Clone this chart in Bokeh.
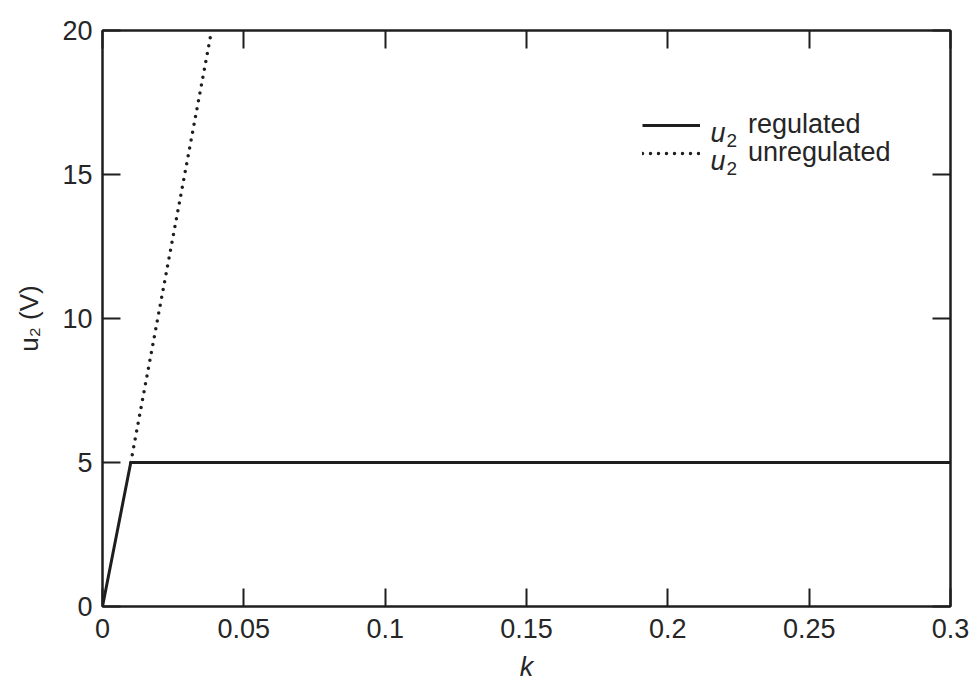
from bokeh.plotting import figure
from bokeh.models import LinearAxis, Label, Legend, LegendItem, Range1d, FixedTicker
from bokeh.embed import file_html
from bokeh.resources import INLINE

# ---- data ----
k_regulated = [0.0, 0.01, 0.30]
u2_regulated = [0.0, 5.0, 5.0]
k_unregulated = [0.01, 0.0386]
u2_unregulated = [5.0, 20.0]

x_ticks = [0, 0.05, 0.1, 0.15, 0.2, 0.25, 0.3]
x_tick_labels = ["0", "0.05", "0.1", "0.15", "0.2", "0.25", "0.3"]
y_ticks = [0, 5, 10, 15, 20]
y_tick_labels = ["0", "5", "10", "15", "20"]
legend_names = ["regulated", "unregulated"]
legend_symbol = ["u", "2"]
x_label = "k"
y_label = "u\u2082 (V)"

FONT = "Liberation Sans"
INK = "#1e1e1e"
TXT = "#262626"

X0, X1 = 0.0, 0.3
Y0, Y1 = 0.0, 20.0
FX0, FX1, FY0, FY1 = 102, 950, 30, 606


def dx(px):
    return X0 + (px - FX0) / (FX1 - FX0) * (X1 - X0)


def dy(py):
    return Y0 + (FY1 - py) / (FY1 - FY0) * (Y1 - Y0)


p = figure(width=969, height=684, x_range=Range1d(X0, X1), y_range=Range1d(Y0, Y1),
           output_backend="svg", toolbar_location=None,
           min_border_left=FX0, min_border_right=969 - FX1,
           min_border_top=FY0, min_border_bottom=684 - FY1)
p.grid.visible = False
p.outline_line_color = INK
p.outline_line_width = 2
p.background_fill_color = "white"
p.border_fill_color = "white"

r_dot = p.line(k_unregulated, u2_unregulated, line_color=INK, line_width=3.5,
               line_dash="0 8", line_cap="round")
r_sol = p.line(k_regulated, u2_regulated, line_color=INK, line_width=3)


def style_axis(ax, ticks, labels, show_labels=True):
    ax.ticker = FixedTicker(ticks=ticks)
    ax.major_label_overrides = {t: l for t, l in zip(ticks, labels)}
    ax.major_tick_in = 18
    ax.major_tick_out = 0
    ax.minor_tick_in = 0
    ax.minor_tick_out = 0
    ax.axis_line_color = INK
    ax.axis_line_width = 2
    ax.major_tick_line_color = INK
    ax.major_tick_line_width = 2
    ax.major_label_text_font = FONT
    if show_labels:
        ax.major_label_text_font_size = "27px"
        ax.major_label_text_color = TXT
    else:
        # mirrored ticks only: labels are not painted and take little room
        ax.major_label_text_font_size = "8px"
        ax.major_label_text_color = None
        ax.major_label_text_alpha = 0
        ax.major_label_standoff = 0


style_axis(p.xaxis[0], x_ticks, x_tick_labels)
p.xaxis[0].major_label_standoff = 12
p.xaxis[0].axis_label = x_label
p.xaxis[0].axis_label_text_font = FONT
p.xaxis[0].axis_label_text_font_style = "italic"
p.xaxis[0].axis_label_text_font_size = "27px"
p.xaxis[0].axis_label_text_color = TXT
p.xaxis[0].axis_label_standoff = 11

style_axis(p.yaxis[0], y_ticks, y_tick_labels)
p.yaxis[0].major_label_standoff = 10
p.yaxis[0].axis_label = y_label
p.yaxis[0].axis_label_text_font = FONT
p.yaxis[0].axis_label_text_font_style = "normal"
p.yaxis[0].axis_label_text_font_size = "26px"
p.yaxis[0].axis_label_text_color = TXT
p.yaxis[0].axis_label_standoff = 15

top = LinearAxis()
style_axis(top, x_ticks, x_tick_labels, show_labels=False)
p.add_layout(top, "above")
right = LinearAxis()
style_axis(right, y_ticks, y_tick_labels, show_labels=False)
p.add_layout(right, "right")

# ---- legend: one small legend per entry so rows sit 28 px apart ----
legend_renderers = [r_sol, r_dot]
legend_y = [466, 438]
for name, rend, ly in zip(legend_names, legend_renderers, legend_y):
    lg = Legend(items=[LegendItem(label=name, renderers=[rend])],
                location=(540, ly), glyph_width=58, glyph_height=28, spacing=0,
                padding=0, margin=0, label_standoff=48, label_height=28,
                border_line_alpha=0, background_fill_alpha=0,
                label_text_font=FONT, label_text_font_size="27px",
                label_text_color=TXT)
    p.add_layout(lg)

# ---- "u2" in front of each legend name: italic u, subscript 2 ----
for i in range(len(legend_names)):
    base = 132 + 28 * i
    p.add_layout(Label(x=dx(710), y=dy(base), text=legend_symbol[0], text_font=FONT,
                       text_font_style="italic", text_font_size="27px", text_color=TXT,
                       text_baseline="alphabetic"))
    p.add_layout(Label(x=dx(726), y=dy(base + 8), text=legend_symbol[1], text_font=FONT,
                       text_font_size="19px", text_color=TXT, text_baseline="alphabetic"))

open("out.html", "w").write(file_html(p, INLINE))
